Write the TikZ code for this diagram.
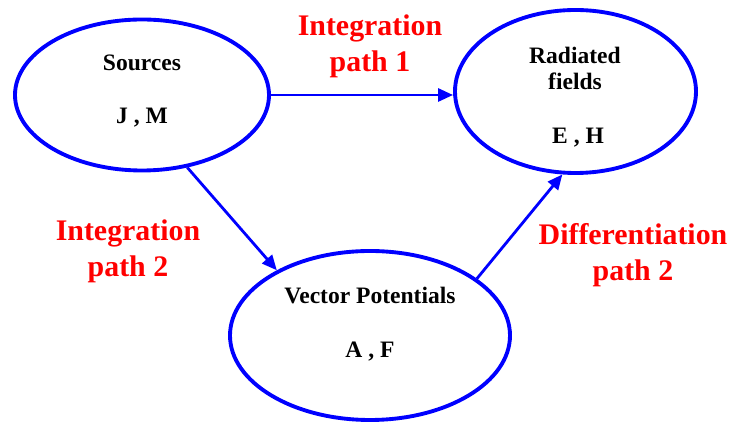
\documentclass[tikz,border=0pt]{standalone}
\usepackage{fontspec}
\setmainfont{Liberation Serif}
\usepackage{tikz}
\usetikzlibrary{shapes.geometric, arrows.meta}
\tikzstyle{flow} = [line width=1.6pt, -{Triangle[length=0.3cm, width=0.26cm]}, blue]

\begin{document}
\begin{tikzpicture}[
		ell/.style={ellipse, draw=blue, line width=2.2pt, inner sep=0pt},
		txt/.style={align=center, font=\fontsize{13.4pt}{15.3pt}\selectfont\rmfamily\bfseries},
		redlbl/.style={align=center, text=red, font=\fontsize{17pt}{20.5pt}\selectfont\rmfamily\bfseries}]
	
	\useasboundingbox (0,0) rectangle (14.6,8.46);
	
	%% -- ellipses --
	\node[ell, minimum width=5.08cm, minimum height=3.02cm] (src) at (2.84,6.56) {};
	\node[ell, minimum width=4.82cm, minimum height=3.26cm] (rad) at (11.51,6.63) {};
	\node[ell, minimum width=5.60cm, minimum height=3.38cm] (vp) at (7.40,1.75) {};
	
	%% -- texts inside --
	\node[txt] (srcname) at (2.84,7.20) {Sources};
	\node[txt] (srcsym) at (2.84,6.10) {J , M};
	\node[txt] (radname) at (11.50,7.09) {Radiated\\fields};
	\node[txt] (radsym) at (11.56,5.70) {E , H};
	\node[txt] (vpname) at (7.40,2.54) {Vector Potentials};
	\node[txt] (vpsym) at (7.40,1.42) {A , F};
	
	%% -- path labels --
	\node[redlbl] (int1) at (7.40,7.53) {Integration\\path 1};
	\node[redlbl] (int2) at (2.56,3.43) {Integration\\path 2};
	\node[redlbl] (diff2) at (12.66,3.36) {Differentiation\\path 2};
	
	%% -- connectors --
	\draw[flow] (src.east) -- (rad.west |- src.east);
	\draw[flow] (src.-58) -- (vp.145);
	\draw[flow] (vp.28) -- (rad.-99);
	
\end{tikzpicture}
\end{document}
